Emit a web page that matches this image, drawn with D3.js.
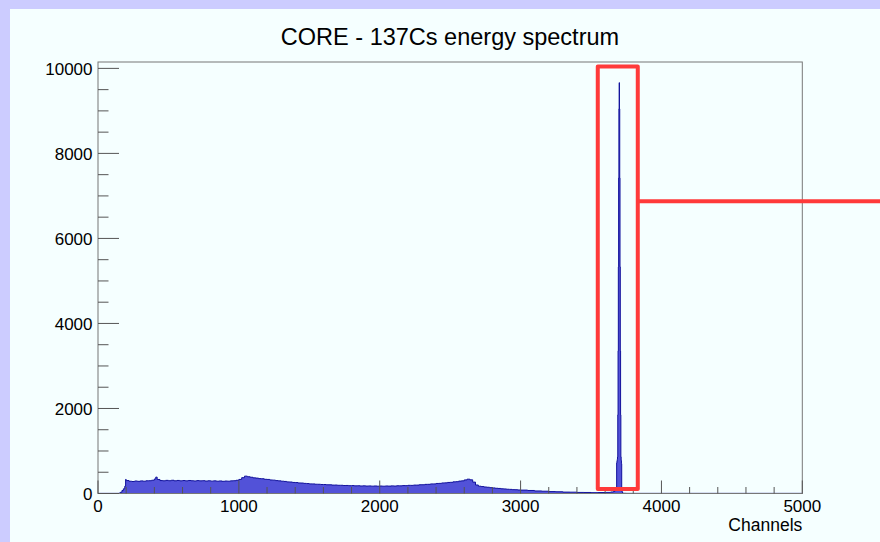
<!DOCTYPE html>
<html>
<head>
<meta charset="utf-8">
<script src="https://cdn.jsdelivr.net/npm/d3@7"></script>
<style>
  html, body { margin: 0; padding: 0; background: #ccccff; }
  svg { display: block; }
  text { font-family: "Liberation Sans", Arial, Helvetica, sans-serif; fill: #000; }
</style>
</head>
<body>
<svg id="chart" width="880" height="542"></svg>
<script>
// ---------------- data ----------------
const chartTitle = "CORE - 137Cs energy spectrum";
const xAxisTitle = "Channels";
const xDomain = [0, 5000];
const yDomain = [0, 10150];
const xMajorTicks = [0, 1000, 2000, 3000, 4000, 5000];
const yMajorTicks = [0, 2000, 4000, 6000, 8000, 10000];
const xMinorStep = 200;
const yMinorStep = 500;

// bin left edges (channels) and counts
const channels = [
  0, 150, 160, 170, 180, 190, 196,
  200, 220, 240, 260, 280, 300, 320, 340, 360, 380, 400, 410, 420, 440, 460, 480,
  500, 520, 540, 560, 580, 600, 620, 640, 660, 680, 700, 720, 740, 760, 780,
  800, 820, 840, 860, 880, 900, 920, 940, 960, 980,
  1000, 1020, 1040, 1060, 1080, 1100, 1120, 1140, 1160, 1180,
  1200, 1220, 1240, 1260, 1280, 1300, 1320, 1340, 1360, 1380,
  1400, 1420, 1440, 1460, 1480, 1500, 1520, 1540, 1560, 1580,
  1600, 1620, 1640, 1660, 1680, 1700, 1720, 1740, 1760, 1780,
  1800, 1820, 1840, 1860, 1880, 1900, 1920, 1940, 1960, 1980,
  2000, 2020, 2040, 2060, 2080, 2100, 2120, 2140, 2160, 2180,
  2200, 2220, 2240, 2260, 2280, 2300, 2320, 2340, 2360, 2380,
  2400, 2420, 2440, 2460, 2480, 2500, 2520, 2540, 2560, 2580,
  2600, 2620, 2640, 2660, 2680, 2700, 2720, 2740, 2760, 2780,
  2800, 2820, 2840, 2860, 2880, 2900, 2920, 2940, 2960, 2980,
  3000, 3050, 3100, 3150, 3200, 3250, 3300, 3350, 3400, 3450,
  3500, 3550, 3600, 3640, 3660, 3670,
  3676, 3680, 3682, 3684, 3686, 3688, 3690, 3692, 3694, 3696, 3698,
  3700, 3702, 3704, 3706, 3708, 3710, 3712, 3714, 3716, 3718, 3720, 3724,
  3730, 3750, 5000
];
const counts = [
  3, 12, 30, 70, 110, 170, 331,
  305, 288, 282, 294, 286, 296, 289, 299, 301, 312, 342, 385, 330, 304, 299, 309,
  301, 311, 299, 307, 298, 305, 297, 306, 300, 295, 303, 297, 301, 293, 299,
  291, 297, 289, 295, 287, 293, 289, 297, 301, 311,
  331, 372, 408, 394, 382, 368, 362, 350, 347, 334,
  331, 318, 314, 303, 297, 289, 284, 273, 270, 260,
  257, 248, 246, 238, 234, 226, 225, 218, 217, 212,
  211, 205, 205, 198, 199, 193, 193, 188, 189, 184,
  186, 180, 182, 177, 180, 175, 178, 173, 177, 172,
  176, 172, 177, 174, 179, 175, 182, 180, 186, 185,
  192, 191, 198, 198, 206, 206, 215, 216, 225, 226,
  236, 238, 248, 250, 260, 263, 274, 278, 292, 298,
  320, 337, 321, 268, 200, 171, 163, 153, 147, 137,
  131, 123, 119, 111, 107, 100, 97, 91, 89, 83,
  80, 71, 60, 54, 45, 41, 33, 31, 25, 24,
  20, 23, 26, 36, 50, 80,
  110, 150, 720, 760, 800, 860, 1849, 3355, 5330, 7420, 9046,
  9664, 9046, 7420, 5330, 3355, 1849, 860, 780, 700, 120, 40, 10,
  5, 3, 3
];

// highlight annotation (in data units)
const highlightChannels = [3548, 3832];
const highlightCounts = [103, 10047];
const connectorCount = 6873;

// ---------------- drawing ----------------
const W = 880, H = 542;
const plot = { left: 98, right: 802.3, top: 62, bottom: 493.5 };
const svg = d3.select("#chart");

// canvas background (lavender border on top/left)
svg.append("rect").attr("x", 0).attr("y", 0).attr("width", W).attr("height", H).attr("fill", "#ccccff");
svg.append("rect").attr("x", 10).attr("y", 9).attr("width", W - 10).attr("height", H - 9).attr("fill", "#f5ffff");

const x = d3.scaleLinear().domain(xDomain).range([plot.left, plot.right]);
const y = d3.scaleLinear().domain(yDomain).range([plot.bottom, plot.top]);

// histogram
const bins = channels.map((c, i) => ({ c, v: counts[i] }));
const area = d3.area().x(d => x(d.c)).y0(y(0)).y1(d => y(d.v)).curve(d3.curveStepAfter);
const line = d3.line().x(d => x(d.c)).y(d => y(d.v)).curve(d3.curveStepAfter);

svg.append("path").datum(bins).attr("d", area).attr("fill", "#5252d8").attr("stroke", "none");
svg.append("path").datum(bins).attr("d", line).attr("fill", "none").attr("stroke", "#12129c").attr("stroke-width", 1);

// frame
svg.append("rect")
  .attr("x", x(xDomain[0])).attr("y", y(yDomain[1]))
  .attr("width", x(xDomain[1]) - x(xDomain[0])).attr("height", y(yDomain[0]) - y(yDomain[1]))
  .attr("fill", "none").attr("stroke", "#777").attr("stroke-width", 1);

// x ticks (inside, pointing up)
const xMinor = d3.range(xDomain[0], xDomain[1] + 1, xMinorStep).filter(v => !xMajorTicks.includes(v));
const gx = svg.append("g");
gx.selectAll("line.maj").data(xMajorTicks).join("line")
  .attr("x1", d => x(d)).attr("x2", d => x(d)).attr("y1", y(0)).attr("y2", y(0) - 13)
  .attr("stroke", "#555").attr("stroke-width", 1);
gx.selectAll("line.min").data(xMinor).join("line")
  .attr("x1", d => x(d)).attr("x2", d => x(d)).attr("y1", y(0)).attr("y2", y(0) - 6.5)
  .attr("stroke", "#555").attr("stroke-width", 1);
gx.selectAll("text").data(xMajorTicks).join("text")
  .attr("x", d => x(d)).attr("y", y(0) + 18).attr("text-anchor", "middle")
  .attr("font-size", 17).text(d => d);

// y ticks (inside, pointing right)
const yMinor = d3.range(yDomain[0], yDomain[1], yMinorStep).filter(v => !yMajorTicks.includes(v));
const gy = svg.append("g");
gy.selectAll("line.maj").data(yMajorTicks).join("line")
  .attr("x1", x(0)).attr("x2", x(0) + 21).attr("y1", d => y(d)).attr("y2", d => y(d))
  .attr("stroke", "#555").attr("stroke-width", 1);
gy.selectAll("line.min").data(yMinor).join("line")
  .attr("x1", x(0)).attr("x2", x(0) + 10.5).attr("y1", d => y(d)).attr("y2", d => y(d))
  .attr("stroke", "#555").attr("stroke-width", 1);
gy.selectAll("text").data(yMajorTicks).join("text")
  .attr("x", x(0) - 5.5).attr("y", d => y(d) + 6.5).attr("text-anchor", "end")
  .attr("font-size", 17).text(d => d);

// axis title
svg.append("text").attr("x", plot.right).attr("y", 530.5).attr("text-anchor", "end")
  .attr("font-size", 17.5).text(xAxisTitle);

// chart title
svg.append("text").attr("x", 450).attr("y", 45).attr("text-anchor", "middle")
  .attr("font-size", 23.5).text(chartTitle);

// highlight box + connector
svg.append("rect")
  .attr("x", x(highlightChannels[0])).attr("y", y(highlightCounts[1]))
  .attr("width", x(highlightChannels[1]) - x(highlightChannels[0]))
  .attr("height", y(highlightCounts[0]) - y(highlightCounts[1]))
  .attr("fill", "none").attr("stroke", "#ff3a3a").attr("stroke-width", 4).attr("stroke-linejoin", "round");
svg.append("line")
  .attr("x1", x(highlightChannels[1])).attr("x2", W)
  .attr("y1", y(connectorCount)).attr("y2", y(connectorCount))
  .attr("stroke", "#ff3a3a").attr("stroke-width", 4);
</script>
</body>
</html>
